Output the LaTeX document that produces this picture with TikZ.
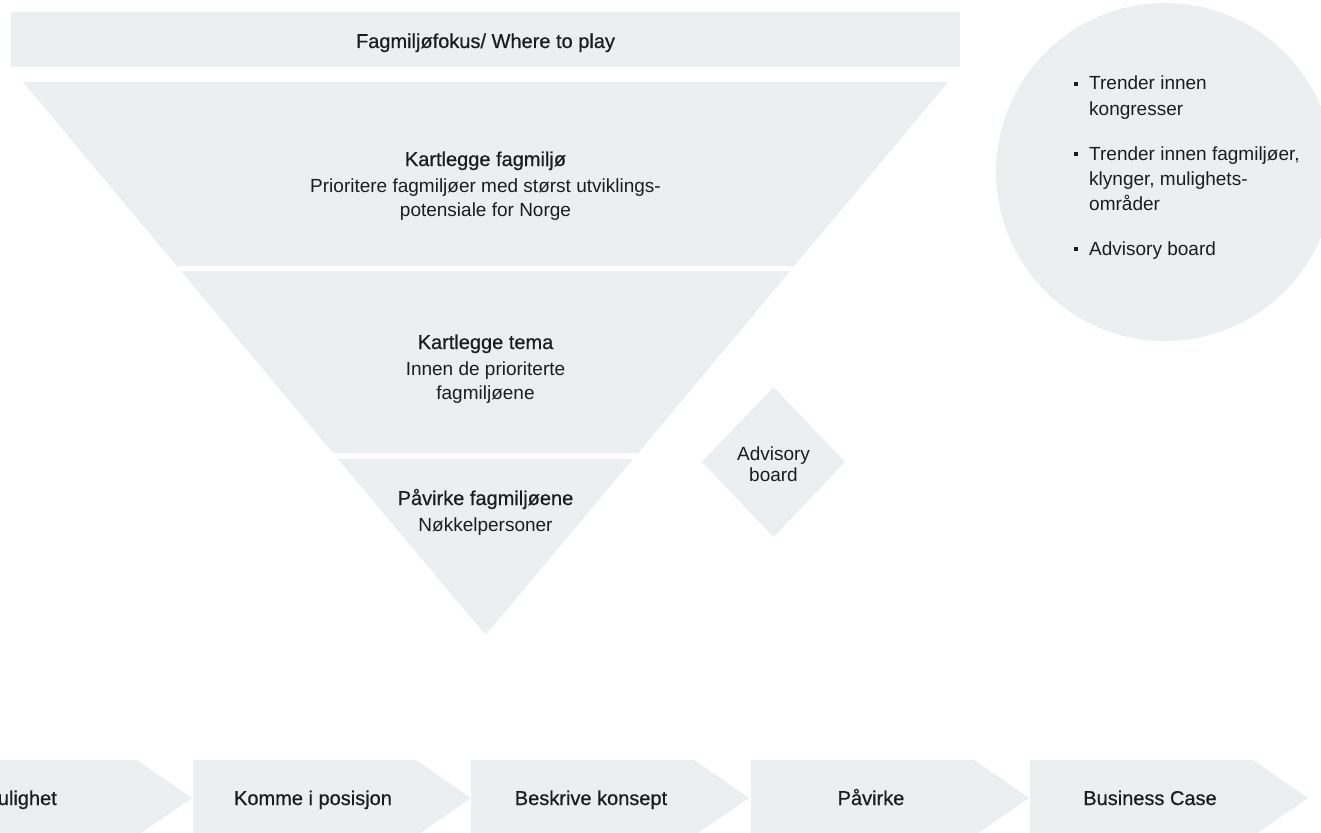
\documentclass[tikz,border=0pt]{standalone}
\usepackage{fontspec}
\setmainfont{Liberation Sans}
\newfontfamily\medfont[FakeBold=0.6]{Liberation Sans}
\definecolor{shade}{HTML}{ECEFF0}
\definecolor{ink}{HTML}{1C1C1C}
\begin{document}
\begin{tikzpicture}[x=1pt,y=-1pt,
  shape fill/.style={fill=shade},
  ttl/.style={text=ink,inner sep=0pt,anchor=base,font=\medfont\fontsize{20}{24}\selectfont},
  txt/.style={text=ink,inner sep=0pt,anchor=base,font=\fontsize{19}{23}\selectfont},
  bul/.style={txt,anchor=base west}]
\useasboundingbox (0,0) rectangle (1321,832);
% top bar
\fill[shape fill] (11,12) rectangle (960,67);
\node[ttl] (bar) at (485.5,48) {Fagmiljøfokus/ Where to play};
% funnel
\fill[shape fill] (23,82) -- (948,82) -- (794.3,266) -- (176.7,266) -- cycle;
\fill[shape fill] (180.9,271) -- (790.1,271) -- (638.1,453) -- (332.9,453) -- cycle;
\fill[shape fill] (338,459) -- (633,459) -- (485.5,635) -- cycle;
\node[ttl] (f1t) at (485.5,166) {Kartlegge fagmiljø};
\node[txt] (f1a) at (485.5,192) {Prioritere fagmiljøer med størst utviklings-};
\node[txt] (f1b) at (485.5,216) {potensiale for Norge};
\node[ttl] (f2t) at (485.5,349) {Kartlegge tema};
\node[txt] (f2a) at (485.5,375) {Innen de prioriterte};
\node[txt] (f2b) at (485.5,399) {fagmiljøene};
\node[ttl] (f3t) at (485.5,505) {Påvirke fagmiljøene};
\node[txt] (f3a) at (485.5,531) {Nøkkelpersoner};
% diamond
\fill[shape fill] (773.5,387) -- (845,462) -- (773.5,537) -- (702,462) -- cycle;
\node[txt] (d1) at (773.5,460) {Advisory};
\node[txt] (d2) at (773.5,481) {board};
% circle
\fill[shape fill] (1165,172) circle[radius=169];
\foreach \yy in {82,152,247} {\fill[ink] (1074,\yy) rectangle ++(4,4);}
\node[bul] (c1a) at (1089,90) {Trender innen};
\node[bul] (c1b) at (1089,115) {kongresser};
\node[bul] (c2a) at (1089,160) {Trender innen fagmiljøer,};
\node[bul] (c2b) at (1089,185) {klynger, mulighets-};
\node[bul] (c2c) at (1089,210) {områder};
\node[bul] (c3a) at (1089,255) {Advisory board};
% chevrons
\foreach \L in {-86,193,471,751,1030} {
  \fill[shape fill] (\L,760) -- (\L+223,760) -- (\L+278,798) -- (\L+223,836) -- (\L,836) -- cycle;
}
\node[ttl,anchor=base east] (s1) at (57,805) {Mulighet};
\node[ttl] (s2) at (313,805) {Komme i posisjon};
\node[ttl] (s3) at (591,805) {Beskrive konsept};
\node[ttl] (s4) at (871,805) {Påvirke};
\node[ttl] (s5) at (1150,805) {Business Case};
\end{tikzpicture}
\end{document}
